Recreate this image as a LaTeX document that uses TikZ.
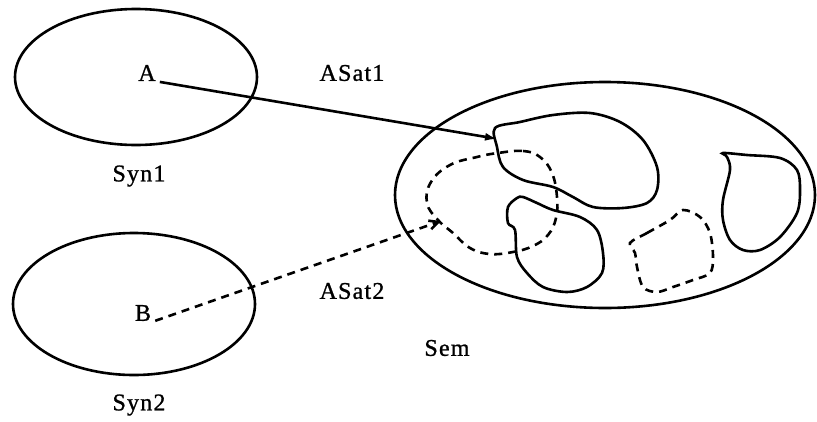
\documentclass[tikz,border=0pt]{standalone}
\usepackage{fontspec}
\setmainfont{Liberation Serif}
\usetikzlibrary{arrows.meta}
\begin{document}
\begin{tikzpicture}[x=1pt,y=-1pt,
  lbl/.style={font=\fontsize{24}{27}\selectfont\addfontfeature{LetterSpace=5,FakeBold=1}, inner sep=1pt},
  ln/.style={line width=2.6pt},
  dsh/.style={line width=2.6pt, dash pattern=on 8pt off 6pt}]
\useasboundingbox (0,0) rectangle (817,421);
% ellipses
\draw[ln] (136,77) ellipse [x radius=121, y radius=68];
\draw[ln] (134,304) ellipse [x radius=121, y radius=71];
\draw[ln] (605,195) ellipse [x radius=210, y radius=113];
% labels
\node[lbl] (A) at (147,73) {A};
\node[lbl] (B) at (143,313) {B};
\node[lbl] (asat1) at (352,73) {ASat1};
\node[lbl] (asat2) at (352,291) {ASat2};
\node[lbl] (syn1) at (139,176) {Syn1};
\node[lbl] (syn2) at (139,405) {Syn2};
\node[lbl] (sem) at (447,348) {Sem};
% blobs
\draw[ln] plot[smooth cycle, tension=0.55] coordinates {
 (495,128) (520,122) (553,115) (590,113) (620,122) (643,140) (657,167)
 (657,190) (647,203) (623,208) (593,207) (573,197) (553,187) (523,180)
 (503,167) (497,147)};
\draw[ln] plot[smooth cycle, tension=0.55] coordinates {
 (523,197) (537,203) (553,210) (580,217) (597,230) (603,253) (602,273)
 (587,287) (567,292) (543,287) (527,273) (517,257) (515,230) (508,223)
 (508,207) (517,198)};
\draw[ln] plot[smooth cycle, tension=0.55] coordinates {
 (723,153) (747,155) (780,158) (797,170) (800,190) (797,213) (780,237)
 (760,250) (743,250) (730,240) (723,220) (723,200) (730,170) (727,157)};
\draw[dsh] plot[smooth cycle, tension=0.7] coordinates {
 (498,153) (523,151) (540,157) (552,173) (557,197) (556,218) (548,235)
 (533,246) (513,252) (490,254) (470,248) (453,233) (438,220)
 (427,203) (431,182) (450,165) (477,157)};
\draw[dsh] plot[smooth cycle, tension=0.55] coordinates {
 (630,243) (647,233) (670,220) (683,210) (700,217) (710,233) (713,257)
 (710,273) (693,280) (673,287) (657,292) (643,287) (637,267) (635,253)};
% connectors
\coordinate (t1) at (498,139);
\coordinate (t2) at (441,221);
\draw[ln, -{Latex[length=13pt,width=8pt]}] ([xshift=3pt,yshift=-1pt]A.base east) -- (t1);
\draw[dsh, -{Straight Barb[length=9pt,width=9pt]}] ([xshift=3pt]B.base east) -- (t2);
\end{tikzpicture}
\end{document}
